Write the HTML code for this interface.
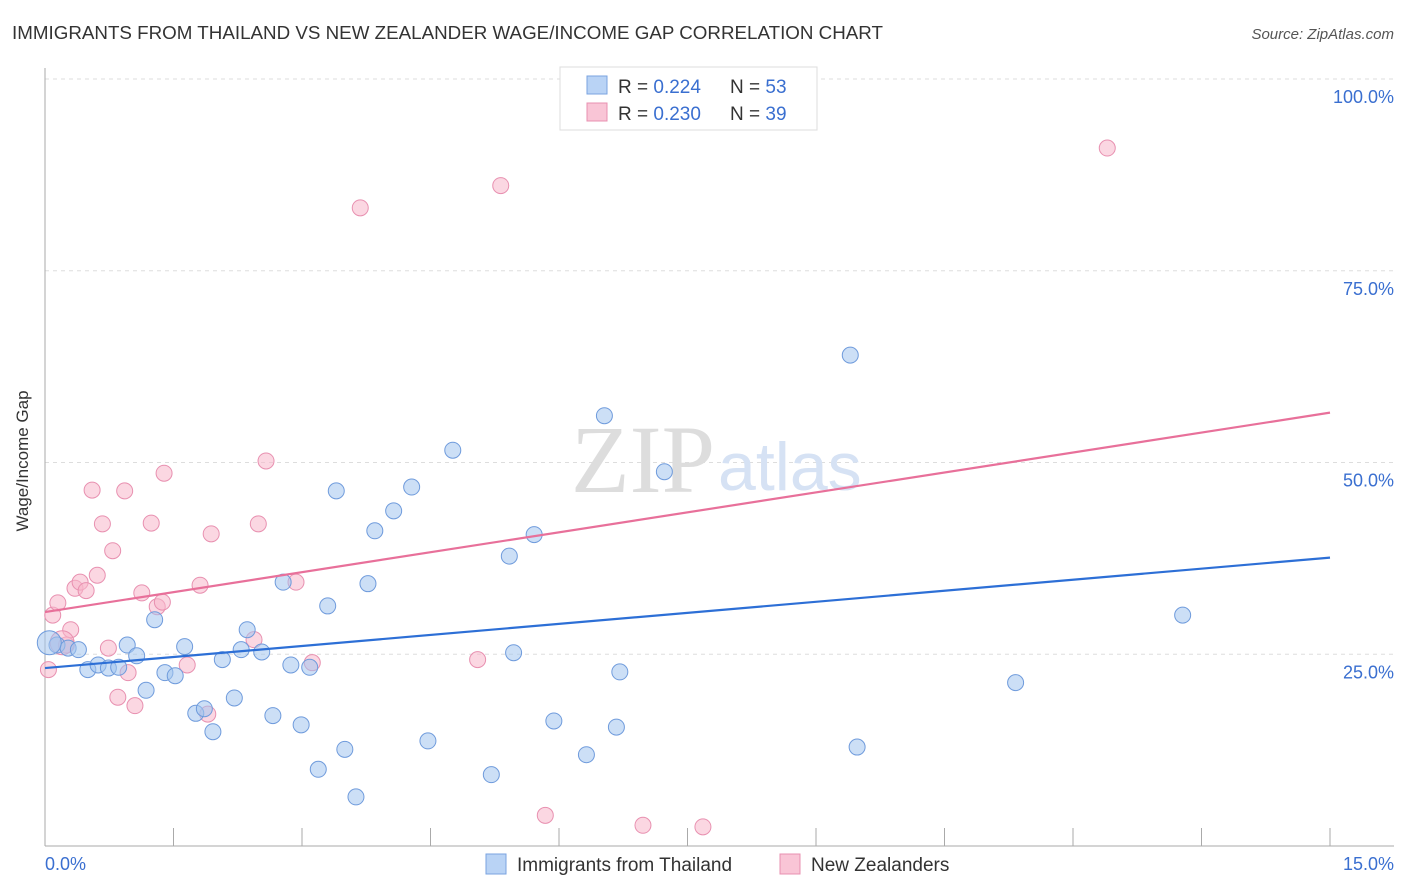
<!DOCTYPE html>
<html><head><meta charset="utf-8"><style>
body{margin:0;background:#fff;font-family:"Liberation Sans",sans-serif;}
svg{display:block}
</style></head><body>
<svg width="1406" height="892" viewBox="0 0 1406 892">
<text x="12" y="39" font-size="18" fill="#333" textLength="871" lengthAdjust="spacingAndGlyphs">IMMIGRANTS FROM THAILAND VS NEW ZEALANDER WAGE/INCOME GAP CORRELATION CHART</text>
<text x="1394" y="39" font-size="15" fill="#555" font-style="italic" text-anchor="end">Source: ZipAtlas.com</text>
<g id="grid"></g>
<text x="715" y="492" font-size="96" fill="#ddd" text-anchor="end" font-family="Liberation Serif,serif">ZIP</text>
<text x="718" y="490" font-size="68" fill="#d6e2f4">atlas</text>
<text x="22" y="455" font-size="17" fill="#333" text-anchor="middle" transform="rotate(-90 28 455)">Wage/Income Gap</text>
<g id="marks"></g>
<g>
<rect x="560" y="67" width="257" height="63" fill="#fff" stroke="#ddd"/>
<rect x="587" y="76" width="20" height="18" fill="#b9d3f5" stroke="#7aa3e0"/>
<rect x="587" y="103" width="20" height="18" fill="#f9c5d6" stroke="#e890b0"/>
<text x="618" y="93" font-size="19" fill="#333">R = <tspan fill="#3a6fd0">0.224</tspan></text>
<text x="730" y="93" font-size="19" fill="#333">N = <tspan fill="#3a6fd0">53</tspan></text>
<text x="618" y="120" font-size="19" fill="#333">R = <tspan fill="#3a6fd0">0.230</tspan></text>
<text x="730" y="120" font-size="19" fill="#333">N = <tspan fill="#3a6fd0">39</tspan></text>
</g>
<g>
<rect x="486" y="854" width="20" height="20" fill="#b9d3f5" stroke="#7aa3e0"/>
<text x="517" y="871" font-size="19" fill="#333">Immigrants from Thailand</text>
<rect x="780" y="854" width="20" height="20" fill="#f9c5d6" stroke="#e890b0"/>
<text x="811" y="871" font-size="19" fill="#333">New Zealanders</text>
</g>
<text x="45" y="870" font-size="18" fill="#3a6fd0">0.0%</text>
<text x="1394" y="870" font-size="18" fill="#3a6fd0" text-anchor="end">15.0%</text>
</svg>
<script>
const yTicks=[25,50,75,100];
const yTickLabels=["25.0%","50.0%","75.0%","100.0%"];
const blueX=[0.14,0.27,0.39,0.50,0.62,0.74,0.86,0.96,1.07,1.18,1.28,1.40,1.52,1.63,1.76,1.86,1.96,2.07,2.21,2.29,2.36,2.53,2.66,2.78,2.87,2.99,3.09,3.30,3.19,3.40,3.50,3.63,3.77,3.85,4.07,4.28,4.47,4.76,5.21,5.42,5.47,5.71,5.94,6.32,6.53,6.67,6.71,7.23,9.40,9.48,11.33,13.28,0.05];
const blueY=[26.2,25.8,25.6,23.0,23.6,23.2,23.3,26.2,24.8,20.3,29.5,22.6,22.2,26.0,17.3,17.9,14.9,24.3,19.3,25.6,28.2,25.3,17.0,34.4,23.6,15.8,23.3,31.3,10.0,46.3,12.6,6.4,34.2,41.1,43.7,46.8,13.7,51.6,9.3,37.8,25.2,40.6,16.3,11.9,56.1,15.5,22.7,48.8,64.0,12.9,21.3,30.1,26.5];
const pinkX=[0.04,0.09,0.15,0.25,0.30,0.35,0.41,0.48,0.55,0.61,0.67,0.74,0.79,0.85,0.93,0.97,1.05,1.13,1.24,1.31,1.37,1.39,1.66,1.81,1.90,1.94,2.44,2.49,2.58,2.93,3.12,3.68,5.05,5.32,5.84,6.98,7.68,12.40,0.2];
const pinkY=[23.0,30.1,31.7,26.2,28.2,33.6,34.4,33.3,46.4,35.3,42.0,25.8,38.5,19.4,46.3,22.6,18.3,33.0,42.1,31.2,31.8,48.6,23.6,34.0,17.2,40.7,26.9,42.0,50.2,34.4,23.9,83.2,24.3,86.1,4.0,2.7,2.5,91.0,26.5];
const blueTrend=[23.2,37.6];
const pinkTrend=[30.5,56.5];
const NS="http://www.w3.org/2000/svg";
const sx=v=>45+v/15*1285, sy=v=>846-v/100*767;
function mk(t,a,p){const e=document.createElementNS(NS,t);for(const k in a)e.setAttribute(k,a[k]);p.appendChild(e);return e;}
const g=document.getElementById('grid'), m=document.getElementById('marks');
yTicks.forEach((t,i)=>{
 const l=mk('line',{x1:45,x2:1394,y1:sy(t),y2:sy(t),stroke:'#ddd','stroke-dasharray':'4,4'},g);
 
 
 const tx=mk('text',{x:1394,y:sy(t)+24,'font-size':18,fill:'#3a6fd0','text-anchor':'end'},g);
 tx.textContent=yTickLabels[i];
 
 
});
const ax=mk('line',{x1:45,x2:45,y1:68,y2:846,stroke:'#aaa'},g);


const bx=mk('line',{x1:45,x2:1394,y1:846,y2:846,stroke:'#aaa'},g);


for(let i=0;i<=10;i++){const t=mk('line',{x1:sx(i*1.5),x2:sx(i*1.5),y1:828,y2:846,stroke:'#aaa'},g);
 
 }
function pts(X,Y,fill,stroke,name){X.forEach((x,i)=>{const big=i===X.length-1;
 const c=mk('circle',{cx:sx(x),cy:sy(Y[i]),r:big?12:8,fill:fill,'fill-opacity':0.55,stroke:stroke,'stroke-width':1},m);
 
 });}
pts(pinkX,pinkY,'#f7b6cb','#e890b0','point-new-zealanders');
pts(blueX,blueY,'#a3c4ee','#6f9bdc','point-thailand');
const tb=mk('line',{x1:sx(0),y1:sy(blueTrend[0]),x2:sx(15),y2:sy(blueTrend[1]),stroke:'#2d6fd6','stroke-width':2.2},m);


const tp=mk('line',{x1:sx(0),y1:sy(pinkTrend[0]),x2:sx(15),y2:sy(pinkTrend[1]),stroke:'#e8709a','stroke-width':2.2},m);


</script>
</body></html>
